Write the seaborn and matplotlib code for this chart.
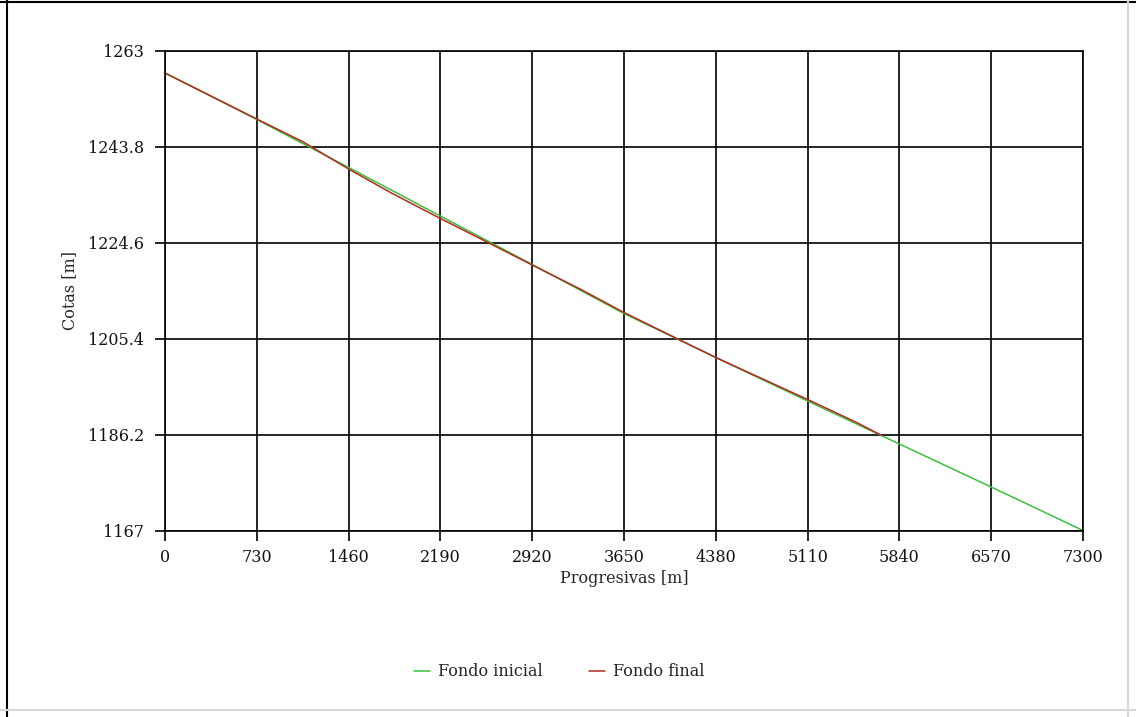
import matplotlib
matplotlib.use("Agg")
import matplotlib.pyplot as plt
import seaborn as sns
import pandas as pd
from matplotlib.lines import Line2D

# ---- data ----
prog_inicial = [0, 730, 1460, 2190, 2920, 3650, 4380, 5110, 5840, 6570, 7300]
cota_inicial = [1258.5, 1249.2, 1239.6, 1229.9, 1220.2, 1210.4, 1201.6, 1192.9, 1184.3, 1175.7, 1167.0]

prog_final = [0, 730, 1100, 1460, 1800, 2190, 2521, 2920, 3300, 3650, 4071, 4380, 5110, 5500, 5700]
cota_final = [1258.5, 1249.3, 1244.7, 1239.3, 1234.5, 1229.4, 1225.2, 1220.1, 1215.3, 1210.6, 1205.4, 1201.6, 1193.2, 1188.6, 1186.0]

x_ticks = [0, 730, 1460, 2190, 2920, 3650, 4380, 5110, 5840, 6570, 7300]
y_ticks = [1167, 1186.2, 1205.4, 1224.6, 1243.8, 1263]
y_tick_labels = ["1167", "1186.2", "1205.4", "1224.6", "1243.8", "1263"]

series_names = ["Fondo inicial", "Fondo final"]
colors = {"Fondo inicial": "#3cc03c", "Fondo final": "#b02a1e"}

df = pd.concat([
    pd.DataFrame({"Progresiva": prog_inicial, "Cota": cota_inicial, "Serie": series_names[0]}),
    pd.DataFrame({"Progresiva": prog_final, "Cota": cota_final, "Serie": series_names[1]}),
], ignore_index=True)

sns.set_style("white")
plt.rcParams["font.family"] = ["DejaVu Serif", "Liberation Serif"]

fig = plt.figure(figsize=(11.36, 7.17), dpi=100)
ax = fig.add_axes([165 / 1136, 1 - 530.5 / 717, (1083 - 165) / 1136, (530.5 - 50.5) / 717])

sns.lineplot(data=df, x="Progresiva", y="Cota", hue="Serie", palette=colors,
             hue_order=series_names, linewidth=1.1, ax=ax, legend=False, sort=False,
             estimator=None)

ax.set_xlim(0, 7300)
ax.set_ylim(1167, 1263)
ax.set_xticks(x_ticks)
ax.set_xticklabels([str(v) for v in x_ticks])
ax.set_yticks(y_ticks)
ax.set_yticklabels(y_tick_labels)
ax.grid(True, color="black", linewidth=1.2)
ax.set_axisbelow(True)
for s in ax.spines.values():
    s.set_color("black")
    s.set_linewidth(1.2)
ax.tick_params(axis="both", which="major", bottom=True, left=True, direction="out",
               length=7, width=1.2, color="black", labelsize=11.5, labelcolor="#111111", pad=8)
ax.tick_params(axis="x", pad=6)

ax.set_xlabel("Progresivas [m]", fontsize=11.5, labelpad=3)
ax.set_ylabel("Cotas [m]", fontsize=11.5, labelpad=7)

handles = [Line2D([0], [0], color=colors[n], linewidth=1.1) for n in series_names]
fig.legend(handles, series_names, loc="center", bbox_to_anchor=(559 / 1136, 1 - 672 / 717),
           ncol=2, frameon=False, fontsize=11.5, handlelength=1.0, columnspacing=2.9,
           handletextpad=0.5)

# outer frame
fig.add_artist(Line2D([6.5 / 1136, 6.5 / 1136], [0, 1], transform=fig.transFigure, color="black", linewidth=1.5))
fig.add_artist(Line2D([0, 1], [1 - 1.5 / 717, 1 - 1.5 / 717], transform=fig.transFigure, color="black", linewidth=1.5))
fig.add_artist(Line2D([1128 / 1136, 1128 / 1136], [0, 1], transform=fig.transFigure, color="#d8d8d8", linewidth=1.5))
fig.add_artist(Line2D([0, 1], [1 - 710 / 717, 1 - 710 / 717], transform=fig.transFigure, color="#d8d8d8", linewidth=1.5))

fig.savefig("out.png", dpi=100, facecolor="white")
